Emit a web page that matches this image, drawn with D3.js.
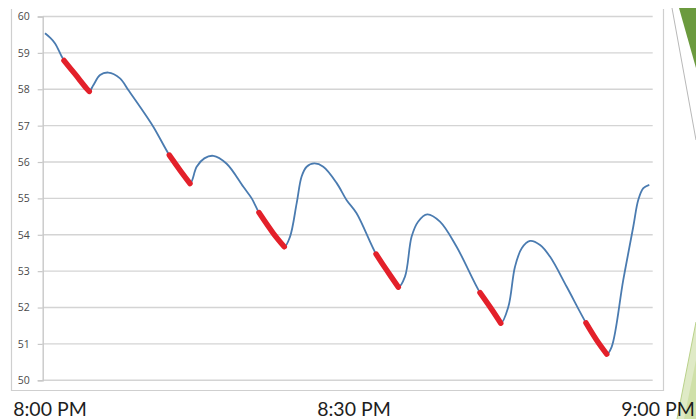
<!DOCTYPE html>
<html>
<head>
<meta charset="utf-8">
<script src="https://cdn.jsdelivr.net/npm/d3@7"></script>
<style>
  html, body { margin: 0; padding: 0; background: #ffffff; }
  svg { display: block; }
</style>
</head>
<body>
<svg id="chart" width="696" height="419"></svg>
<script>
// Minutes after 8:00 PM
const times = [0, 0.5, 1, 1.88, 3, 4.1, 4.39, 4.79, 5.46, 6.28, 7.44, 8.26, 9.42, 10.74, 12.33, 13.38, 14.38,
  15.04, 15.8, 16.69, 17.99, 19.67, 20.5, 21.22, 22.64, 23.73,
  24.3, 24.96, 25.45, 25.95, 26.71, 27.6, 28.93, 29.92, 30.9, 32.83, 33.88, 35.04,
  35.7, 36.36, 37.0, 37.91, 39.17, 40.82, 43.14, 44.3, 45.2,
  45.95, 46.61, 47.28, 48.1, 49.1, 50.08, 51.74, 53.65, 54.7, 55.71,
  56.2, 57.35, 58.34, 58.84, 59.34, 59.93];
const temps = [59.54, 59.42, 59.26, 58.79, 58.41, 58.03, 57.94, 58.11, 58.39, 58.46, 58.30, 57.98, 57.52, 56.97, 56.19, 55.78, 55.41,
  55.87, 56.10, 56.17, 55.96, 55.32, 55.00, 54.61, 54.04, 53.67,
  53.95, 54.87, 55.60, 55.87, 55.96, 55.87, 55.42, 54.95, 54.59, 53.47, 53.03, 52.56,
  52.85, 53.95, 54.36, 54.56, 54.36, 53.67, 52.41, 51.95, 51.57,
  52.02, 53.12, 53.63, 53.83, 53.72, 53.40, 52.57, 51.58, 51.11, 50.72,
  50.92, 52.76, 54.22, 54.96, 55.28, 55.37];
// Highlighted (red) time ranges, minutes after 8:00 PM
const highlightStarts = [1.88, 12.33, 21.22, 32.83, 43.14, 53.65];
const highlightEnds   = [4.39, 14.38, 23.73, 35.04, 45.2, 55.71];
const yTicks = [50, 51, 52, 53, 54, 55, 56, 57, 58, 59, 60];
const xLabelTimes = [0, 30, 60];
const xLabels = ["8:00 PM", "8:30 PM", "9:00 PM"];

const data = times.map((t, i) => ({ t, v: temps[i] }));

const svg = d3.select("#chart");

// Slide decorations (right edge)
svg.append("polygon").attr("points", "677,419 696,322 696,419").attr("fill", "#dfeac6");
svg.append("polygon").attr("points", "684,419 696,360 696,419").attr("fill", "#cfe0a8");
svg.append("line").attr("x1", 677).attr("y1", 419).attr("x2", 696).attr("y2", 322)
  .attr("stroke", "#b9d18a").attr("stroke-width", 1);
svg.append("polygon").attr("points", "679,8 696,8 696,68").attr("fill", "#6b9a3e");
svg.append("line").attr("x1", 672).attr("y1", 8).attr("x2", 696).attr("y2", 140)
  .attr("stroke", "#b8b8b8").attr("stroke-width", 1);

// Chart frame
svg.append("path").attr("d", "M11.5,9 V390.5 H663.5 V9")
  .attr("fill", "none").attr("stroke", "#cfcfcf").attr("stroke-width", 1.2);

const x = d3.scaleLinear().domain([0, 60]).range([45, 650]);
const y = d3.scaleLinear().domain([50, 60]).range([380.3, 16.5]);
const plotLeft = 42.7, plotRight = 652.7;

// Gridlines
svg.append("g").selectAll("line").data(yTicks).join("line")
  .attr("x1", plotLeft).attr("x2", plotRight)
  .attr("y1", d => y(d)).attr("y2", d => y(d))
  .attr("stroke", "#d4d4d4").attr("stroke-width", 1.4);

// Y axis
const yAxis = d3.axisLeft(y).tickValues(yTicks).tickSize(5).tickPadding(8).tickFormat(d3.format("d"));
const gy = svg.append("g").attr("transform", `translate(${plotLeft},0)`).call(yAxis);
gy.select(".domain").attr("stroke", "#c8c8c8").attr("stroke-width", 1.4);
gy.selectAll(".tick line").attr("stroke", "#c8c8c8").attr("stroke-width", 1.2);
gy.selectAll(".tick text").attr("fill", "#4a4a4a").attr("font-size", 10.5)
  .attr("font-family", "'Open Sans', 'DejaVu Sans', sans-serif");

// Main line
const line = d3.line().x(d => x(d.t)).y(d => y(d.v)).curve(d3.curveCatmullRom.alpha(0.5));
svg.append("path").datum(data).attr("d", line)
  .attr("fill", "none").attr("stroke", "#4a7bb0").attr("stroke-width", 1.8)
  .attr("stroke-linejoin", "round");

// Highlights
highlightStarts.forEach((s, i) => {
  const e = highlightEnds[i];
  const seg = data.filter(d => d.t >= s - 1e-9 && d.t <= e + 1e-9);
  svg.append("path").datum(seg).attr("d", line)
    .attr("fill", "none").attr("stroke", "#e3202a").attr("stroke-width", 5.5)
    .attr("stroke-linecap", "round").attr("stroke-linejoin", "round");
});

// X labels (slide text)
svg.append("g").selectAll("text").data(xLabelTimes).join("text")
  .attr("x", d => x(d) + 5 + d * 0.05)
  .attr("y", 416)
  .attr("text-anchor", "middle")
  .attr("font-family", "Lato, 'Open Sans', sans-serif")
  .attr("font-size", 19.5)
  .attr("fill", "#1e1e1e")
  .text((d, i) => xLabels[i]);
</script>
</body>
</html>
